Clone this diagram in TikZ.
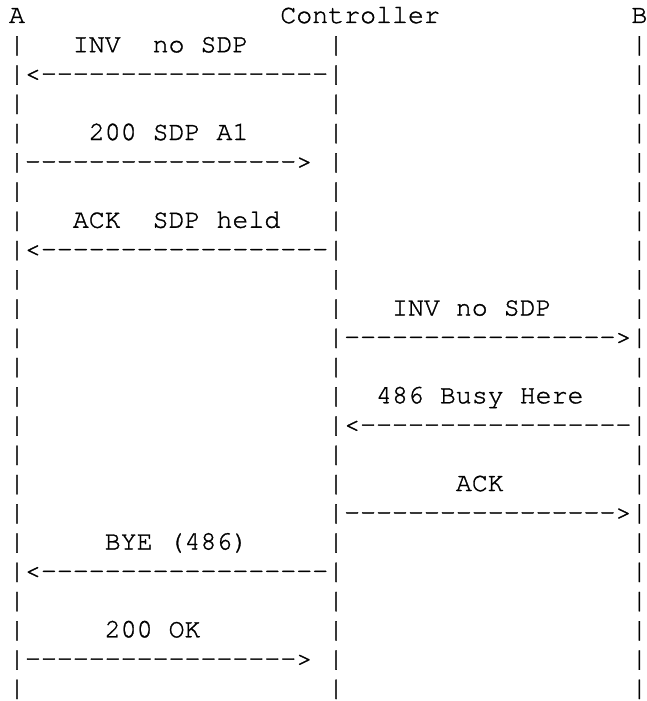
\documentclass[tikz,border=0pt]{standalone}
\usepackage{fontspec}
\setmonofont{texgyrecursor-regular.otf}[FakeBold=1.2]
\tikzset{
  asciirow/.style={anchor=base west, inner sep=0pt, outer sep=0pt,
    font=\ttfamily\fontsize{26.6pt}{29.25pt}\selectfont, text=black}
}
\begin{document}
\begin{tikzpicture}[x=1pt,y=1pt]
\fill[white] (0,0) rectangle (647,-701);
\useasboundingbox (0,0) rectangle (647,-701);
\node[asciirow] (r0)  at (9,{-23-29.25*0})  {A~~~~~~~~~~~~~~~~Controller~~~~~~~~~~~~B};
\node[asciirow] (r1)  at (9,{-23-29.25*1})  {|~~~INV~~no~SDP~~~~~|~~~~~~~~~~~~~~~~~~|};
\node[asciirow] (r2)  at (9,{-23-29.25*2})  {|<------------------|~~~~~~~~~~~~~~~~~~|};
\node[asciirow] (r3)  at (9,{-23-29.25*3})  {|~~~~~~~~~~~~~~~~~~~|~~~~~~~~~~~~~~~~~~|};
\node[asciirow] (r4)  at (9,{-23-29.25*4})  {|~~~~200~SDP~A1~~~~~|~~~~~~~~~~~~~~~~~~|};
\node[asciirow] (r5)  at (9,{-23-29.25*5})  {|----------------->~|~~~~~~~~~~~~~~~~~~|};
\node[asciirow] (r6)  at (9,{-23-29.25*6})  {|~~~~~~~~~~~~~~~~~~~|~~~~~~~~~~~~~~~~~~|};
\node[asciirow] (r7)  at (9,{-23-29.25*7})  {|~~~ACK~~SDP~held~~~|~~~~~~~~~~~~~~~~~~|};
\node[asciirow] (r8)  at (9,{-23-29.25*8})  {|<------------------|~~~~~~~~~~~~~~~~~~|};
\node[asciirow] (r9)  at (9,{-23-29.25*9})  {|~~~~~~~~~~~~~~~~~~~|~~~~~~~~~~~~~~~~~~|};
\node[asciirow] (r10) at (9,{-23-29.25*10}) {|~~~~~~~~~~~~~~~~~~~|~~~INV~no~SDP~~~~~|};
\node[asciirow] (r11) at (9,{-23-29.25*11}) {|~~~~~~~~~~~~~~~~~~~|----------------->|};
\node[asciirow] (r12) at (9,{-23-29.25*12}) {|~~~~~~~~~~~~~~~~~~~|~~~~~~~~~~~~~~~~~~|};
\node[asciirow] (r13) at (9,{-23-29.25*13}) {|~~~~~~~~~~~~~~~~~~~|~~486~Busy~Here~~~|};
\node[asciirow] (r14) at (9,{-23-29.25*14}) {|~~~~~~~~~~~~~~~~~~~|<-----------------|};
\node[asciirow] (r15) at (9,{-23-29.25*15}) {|~~~~~~~~~~~~~~~~~~~|~~~~~~~~~~~~~~~~~~|};
\node[asciirow] (r16) at (9,{-23-29.25*16}) {|~~~~~~~~~~~~~~~~~~~|~~~~~~~ACK~~~~~~~~|};
\node[asciirow] (r17) at (9,{-23-29.25*17}) {|~~~~~~~~~~~~~~~~~~~|----------------->|};
\node[asciirow] (r18) at (9,{-23-29.25*18}) {|~~~~~BYE~(486)~~~~~|~~~~~~~~~~~~~~~~~~|};
\node[asciirow] (r19) at (9,{-23-29.25*19}) {|<------------------|~~~~~~~~~~~~~~~~~~|};
\node[asciirow] (r20) at (9,{-23-29.25*20}) {|~~~~~~~~~~~~~~~~~~~|~~~~~~~~~~~~~~~~~~|};
\node[asciirow] (r21) at (9,{-23-29.25*21}) {|~~~~~200~OK~~~~~~~~|~~~~~~~~~~~~~~~~~~|};
\node[asciirow] (r22) at (9,{-23-29.25*22}) {|----------------->~|~~~~~~~~~~~~~~~~~~|};
\node[asciirow] (r23) at (9,{-23-29.25*23}) {|~~~~~~~~~~~~~~~~~~~|~~~~~~~~~~~~~~~~~~|};
\end{tikzpicture}
\end{document}
